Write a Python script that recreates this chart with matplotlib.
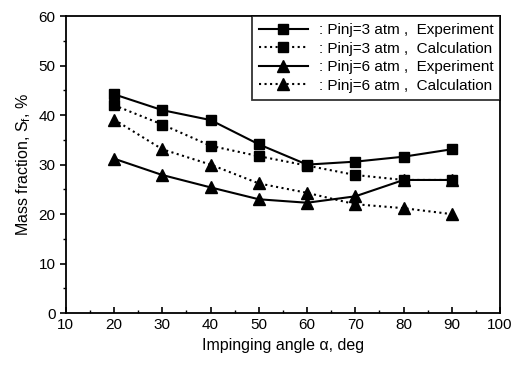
import numpy as np
import matplotlib
matplotlib.use('Agg')
import matplotlib.pyplot as plt
from matplotlib.ticker import MultipleLocator

plt.rcParams['font.family'] = ['Liberation Sans', 'DejaVu Sans']
plt.rcParams['mathtext.fontset'] = 'custom'
plt.rcParams['mathtext.rm'] = 'Liberation Sans'
plt.rcParams['mathtext.it'] = 'Liberation Sans:italic'

angle = [20, 30, 40, 50, 60, 70, 80, 90]
exp_3atm = [44.2, 41.0, 39.0, 34.1, 30.0, 30.6, 31.6, 33.1]
calc_3atm = [42.0, 38.1, 33.8, 31.7, 29.8, 27.9, 26.9, 26.9]
exp_6atm = [31.2, 27.9, 25.4, 23.0, 22.3, 23.6, 26.9, 26.9]
calc_6atm = [39.1, 33.1, 30.0, 26.2, 24.3, 22.0, 21.2, 20.0]

fig = plt.figure(figsize=(5.14, 3.65), dpi=100)
ax = fig.add_axes([0.128, 0.142, 0.845, 0.814])

ax.plot(angle, exp_3atm, color='black', linestyle='-', linewidth=1.5,
        marker='s', markersize=7, label=': Pinj=3 atm ,  Experiment')
ax.plot(angle, calc_3atm, color='black', linestyle=':', linewidth=1.5,
        marker='s', markersize=7, label=': Pinj=3 atm ,  Calculation')
ax.plot(angle, exp_6atm, color='black', linestyle='-', linewidth=1.5,
        marker='^', markersize=8, label=': Pinj=6 atm ,  Experiment')
ax.plot(angle, calc_6atm, color='black', linestyle=':', linewidth=1.5,
        marker='^', markersize=8, label=': Pinj=6 atm ,  Calculation')

ax.set_xlim(10, 100)
ax.set_ylim(0, 60)
ax.xaxis.set_major_locator(MultipleLocator(10))
ax.xaxis.set_minor_locator(MultipleLocator(5))
ax.yaxis.set_major_locator(MultipleLocator(10))
ax.yaxis.set_minor_locator(MultipleLocator(5))
ax.tick_params(axis='y', which='both', direction='out', labelsize=11)
ax.tick_params(axis='x', which='both', direction='in', labelsize=11)
ax.tick_params(which='major', length=4, width=1.2)
ax.tick_params(which='minor', length=2.5, width=1)
for s in ax.spines.values():
    s.set_linewidth(1.3)

ax.set_xlabel('Impinging angle α, deg', fontsize=11.5)
ax.set_ylabel(r'Mass fraction, S$_\mathregular{f}$, %', fontsize=11.5)

leg = ax.legend(loc='upper right', fontsize=11, frameon=True, fancybox=False,
                edgecolor='black', handlelength=3.2, borderaxespad=0.0,
                handletextpad=0.7, labelspacing=0.3, borderpad=0.45)
leg.get_frame().set_linewidth(1.3)

plt.savefig('out.png', dpi=100)
